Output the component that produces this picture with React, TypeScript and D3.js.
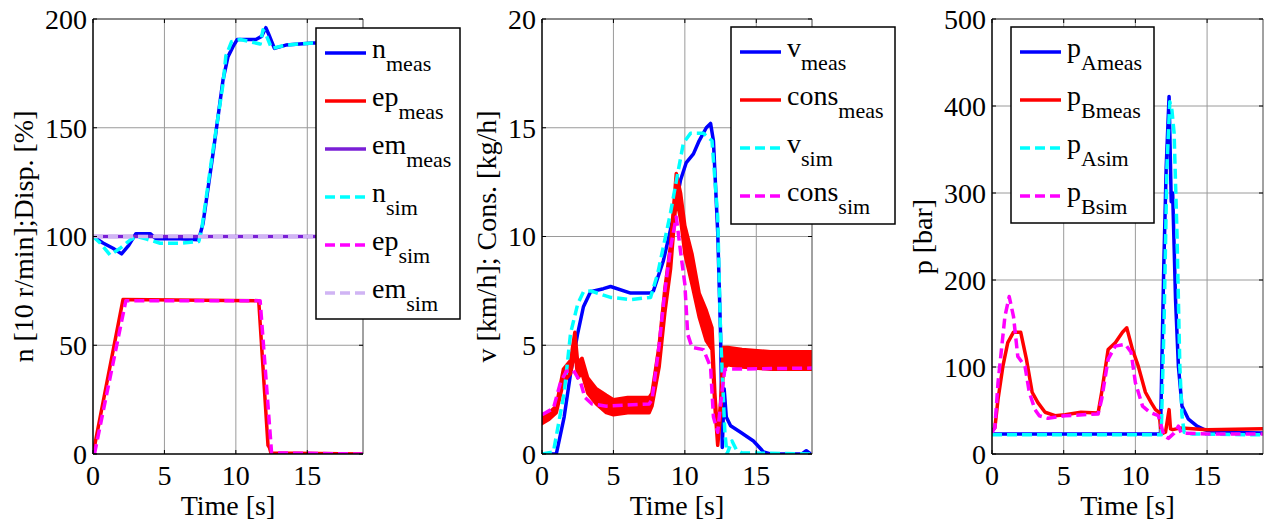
import React, { useEffect, useRef } from 'react';
import * as d3 from 'd3';

// ---- data ----
const X_TICKS = [0, 5, 10, 15];
const T_MAX = 18.9;

// panel 1: speed / displacement
const Y1_TICKS = [0, 50, 100, 150, 200];
const T_N_MEAS = [0, 0.7, 1.4, 2.0, 2.5, 3.0, 4.0, 4.4, 6.1, 7.4, 7.7, 8.4, 9.1, 9.45, 9.8, 10.1, 11.4, 11.8, 12.1, 12.3, 12.7, 13.5, 15.4, 18.9];
const N_MEAS = [100, 97, 94.6, 92, 95.9, 101.3, 101.3, 99, 99, 98.5, 106, 138, 172, 182.7, 187.3, 190.6, 190.6, 192, 196, 193, 186.5, 188, 189, 189];
const T_N_SIM = [0, 0.5, 1.2, 1.9, 2.6, 3.05, 3.75, 4.7, 6.1, 7.4, 7.6, 8.4, 9.1, 9.3, 9.7, 10.3, 11.7, 11.9, 12.1, 12.5, 13.5, 15.4, 18.9];
const N_SIM = [100, 97, 91.5, 94.6, 98.4, 100, 98.8, 96.9, 96.9, 97.7, 103, 139.8, 170, 183, 189.6, 190.6, 188.5, 195, 193, 186.5, 188, 189, 189];
const T_EP_MEAS = [0, 2.1, 11.6, 12.25, 12.35, 12.45, 18.9];
const EP_MEAS = [0, 71, 70.5, 4, 3, 0.5, 0];
const T_EP_SIM = [0.1, 2.3, 11.7, 12.5, 18.9];
const EP_SIM = [0, 70.5, 70.5, 0.5, 0];
const T_EM = [0, 18.9];
const EM_MEAS = [100, 100];
const EM_SIM = [100, 100];

// panel 2: vehicle speed / consumption
const Y2_TICKS = [0, 5, 10, 15, 20];
const T_V_MEAS = [0, 1.0, 1.55, 2.0, 2.5, 2.9, 3.4, 4.3, 4.8, 6.2, 7.6, 7.8, 8.5, 9.2, 9.7, 10.1, 10.6, 11.0, 11.5, 11.8, 12.0, 12.3, 12.5, 12.62, 12.75, 12.9, 13.2, 13.9, 14.8, 15.5, 16.0, 18.2, 18.5, 18.8];
const V_MEAS = [0, 0, 1.7, 3.7, 5.55, 6.77, 7.46, 7.6, 7.7, 7.4, 7.4, 7.5, 8.9, 10.9, 12.6, 13.4, 13.8, 14.4, 15.0, 15.2, 14.4, 10.2, 5.5, 0.3, 3.0, 1.7, 1.3, 1.0, 0.6, 0.1, 0, 0, 0.15, 0];
const T_V_SIM = [0, 0.8, 1.55, 2.0, 2.5, 2.9, 3.4, 4.8, 6.2, 7.6, 8.1, 9.0, 9.5, 9.9, 10.4, 11.3, 11.9, 12.3, 12.5, 12.8, 12.95, 13.3, 13.6, 14.0, 18.9];
const V_SIM = [0, 0.1, 2.8, 5.55, 6.9, 7.46, 7.5, 7.2, 7.1, 7.2, 8.3, 11.1, 12.9, 14.3, 14.75, 14.75, 14.4, 10.9, 5.5, 1.0, 0, 0.6, 0.2, 0.05, 0];
const T_CONS_MEAS = [0, 0.5, 1.0, 1.5, 2.0, 2.3, 2.5, 2.8, 3.2, 3.8, 4.5, 5.0, 6.0, 7.5, 7.7, 8.2, 8.6, 9.0, 9.4, 9.7, 10.0, 10.5, 11.0, 11.5, 11.9, 12.1, 12.3, 12.5, 12.7, 13.0, 14, 16, 18.9];
const CONS_MEAS_LO = [1.4, 1.6, 1.9, 3.3, 3.7, 4.8, 3.5, 3.7, 2.8, 2.3, 1.9, 1.8, 1.9, 1.9, 2.2, 4.0, 6.5, 8.5, 11.8, 10.8, 9.2, 7.8, 6.3, 5.2, 4.8, 2.2, 0.4, 1.8, 3.9, 4.1, 4.0, 3.9, 3.9];
const CONS_MEAS_HI = [1.8, 1.9, 2.2, 3.9, 4.3, 5.6, 4.2, 4.4, 3.5, 3.0, 2.7, 2.5, 2.6, 2.6, 2.8, 5.0, 7.6, 9.6, 12.9, 12.0, 10.5, 9.2, 7.4, 6.6, 5.8, 2.8, 0.8, 2.4, 4.9, 4.9, 4.8, 4.7, 4.7];
const T_CONS_SIM = [0, 0.8, 1.3, 1.7, 2.2, 2.7, 3.0, 3.5, 4.5, 7.5, 7.7, 8.2, 8.6, 9.0, 9.4, 9.7, 10.0, 10.2, 10.5, 11.3, 11.8, 12.0, 12.3, 12.5, 12.8, 18.9];
const CONS_SIM = [1.8, 2.1, 3.3, 3.8, 3.85, 3.3, 2.6, 2.3, 2.2, 2.3, 2.5, 5.0, 7.5, 9.5, 10.9, 9.3, 7.8, 5.5, 4.9, 4.8, 4.0, 1.7, 1.0, 2.3, 3.9, 3.95];

// panel 3: pressures
const Y3_TICKS = [0, 100, 200, 300, 400, 500];
const T_PA_MEAS = [0, 11.75, 11.98, 12.15, 12.35, 12.5, 12.6, 12.8, 13.0, 13.25, 13.7, 14.3, 14.8, 15.5, 18.9];
const PA_MEAS = [23, 23, 216, 330, 411, 290, 300, 178, 101, 55, 40, 32, 28, 25, 24];
const T_PA_SIM = [0, 11.8, 12.0, 12.2, 12.4, 12.55, 12.7, 12.9, 13.1, 13.25, 13.4, 14, 18.9];
const PA_SIM = [22, 22, 150, 330, 405, 395, 369, 254, 101, 44, 25, 23, 22];
const T_PB_MEAS = [0, 0.2, 0.42, 0.76, 1.1, 1.5, 2.0, 2.4, 2.8, 3.2, 3.7, 4.4, 5.1, 6.2, 7.4, 7.65, 8.1, 8.6, 9.1, 9.4, 9.8, 10.2, 10.7, 11.1, 11.4, 11.65, 11.8, 12.1, 12.35, 12.45, 12.6, 13.2, 15, 18.9];
const PB_MEAS = [27, 30, 63, 101, 128, 140, 140, 109, 71, 59, 48, 44, 45, 48, 47, 71, 120, 128, 140, 145, 120, 101, 71, 59, 51, 48, 23, 25, 51, 29, 28, 30, 28, 29];
const T_PB_SIM = [0, 0.2, 0.42, 0.9, 1.2, 1.5, 1.8, 2.3, 2.6, 3.0, 3.3, 3.9, 5.1, 7.4, 7.65, 8.1, 8.6, 9.3, 9.7, 10.0, 10.5, 11.0, 11.6, 12.0, 12.3, 12.7, 13.0, 13.2, 15, 18.9];
const PB_SIM = [25, 30, 82, 158, 181, 158, 112, 101, 71, 51, 44, 41, 44, 46, 63, 109, 124, 126, 117, 82, 55, 48, 44, 21, 18, 24, 32, 24, 23, 23];

const BLUE = '#0000ff';
const RED = '#ff0000';
const PURPLE = '#7a1fd6';
const CYAN = '#00ffff';
const MAGENTA = '#ff00ff';
const LAVENDER = '#d0b4f4';
const FONT = "'Liberation Serif', 'Times New Roman', Times, 'DejaVu Serif', serif";

const zip = (t, v) => t.map((x, i) => [x, v[i]]);

const panels = [
  {
    left: 93, right: 363, yMax: 200, yTicks: Y1_TICKS,
    yLabel: 'n [10 r/min];Disp. [%]', yLabelX: 33,
    legend: { x: 316, y: 28, w: 144, h: 291 },
    series: [
      { main: 'n', sub: 'meas', color: BLUE, data: zip(T_N_MEAS, N_MEAS) },
      { main: 'ep', sub: 'meas', color: RED, data: zip(T_EP_MEAS, EP_MEAS) },
      { main: 'em', sub: 'meas', color: PURPLE, data: zip(T_EM, EM_MEAS) },
      { main: 'n', sub: 'sim', color: CYAN, dash: true, data: zip(T_N_SIM, N_SIM) },
      { main: 'ep', sub: 'sim', color: MAGENTA, dash: true, data: zip(T_EP_SIM, EP_SIM) },
      { main: 'em', sub: 'sim', color: LAVENDER, dash: true, data: zip(T_EM, EM_SIM) },
    ],
  },
  {
    left: 542, right: 812, yMax: 20, yTicks: Y2_TICKS,
    yLabel: 'v [km/h]; Cons. [kg/h]', yLabelX: 496,
    legend: { x: 731, y: 27, w: 164, h: 197 },
    series: [
      { main: 'v', sub: 'meas', color: BLUE, data: zip(T_V_MEAS, V_MEAS) },
      {
        main: 'cons', sub: 'meas', color: RED,
        band: T_CONS_MEAS.map((t, i) => [t, CONS_MEAS_LO[i], CONS_MEAS_HI[i]]),
      },
      { main: 'v', sub: 'sim', color: CYAN, dash: true, data: zip(T_V_SIM, V_SIM) },
      { main: 'cons', sub: 'sim', color: MAGENTA, dash: true, data: zip(T_CONS_SIM, CONS_SIM) },
    ],
  },
  {
    left: 992, right: 1263, yMax: 500, yTicks: Y3_TICKS,
    yLabel: 'p [bar]', yLabelX: 932,
    legend: { x: 1011, y: 27, w: 143, h: 196 },
    series: [
      { main: 'p', sub: 'Ameas', color: BLUE, data: zip(T_PA_MEAS, PA_MEAS) },
      { main: 'p', sub: 'Bmeas', color: RED, data: zip(T_PB_MEAS, PB_MEAS) },
      { main: 'p', sub: 'Asim', color: CYAN, dash: true, data: zip(T_PA_SIM, PA_SIM) },
      { main: 'p', sub: 'Bsim', color: MAGENTA, dash: true, data: zip(T_PB_SIM, PB_SIM) },
    ],
  },
];

const App = () => {
  const ref = useRef(null);

  useEffect(() => {
    const svg = d3.select(ref.current);
    svg.selectAll('*').remove();

    const top = 19;
    const bottom = 454;

    panels.forEach((p, pi) => {
      const x = d3.scaleLinear().domain([0, T_MAX]).range([p.left, p.right]);
      const y = d3.scaleLinear().domain([0, p.yMax]).range([bottom, top]);
      const g = svg.append('g');

      // grid
      g.selectAll('.gx').data(X_TICKS.slice(1)).enter().append('line')
        .attr('x1', d => x(d)).attr('x2', d => x(d))
        .attr('y1', top).attr('y2', bottom)
        .attr('stroke', '#9a9a9a').attr('stroke-width', 1);
      g.selectAll('.gy').data(p.yTicks.slice(1)).enter().append('line')
        .attr('x1', p.left).attr('x2', p.right)
        .attr('y1', d => y(d)).attr('y2', d => y(d))
        .attr('stroke', '#9a9a9a').attr('stroke-width', 1);

      // clip
      const clipId = `clip${pi}`;
      svg.append('clipPath').attr('id', clipId).append('rect')
        .attr('x', p.left).attr('y', top)
        .attr('width', p.right - p.left).attr('height', bottom - top);

      const lines = g.append('g').attr('clip-path', `url(#${clipId})`);
      const line = d3.line().x(d => x(d[0])).y(d => y(d[1]));
      const area = d3.area().x(d => x(d[0])).y0(d => y(d[1])).y1(d => y(d[2]));

      p.series.forEach(s => {
        if (s.band) {
          lines.append('path')
            .attr('d', area(s.band))
            .attr('fill', s.color)
            .attr('stroke', s.color)
            .attr('stroke-width', 3.5)
            .attr('stroke-linejoin', 'round');
        } else {
          lines.append('path')
            .attr('d', line(s.data))
            .attr('fill', 'none')
            .attr('stroke', s.color)
            .attr('stroke-width', 3.5)
            .attr('stroke-linejoin', 'round')
            .attr('stroke-dasharray', s.dash ? '10,5' : null);
        }
      });

      // box
      g.append('line').attr('x1', p.left).attr('x2', p.right).attr('y1', top).attr('y2', top)
        .attr('stroke', '#444').attr('stroke-width', 1);
      g.append('line').attr('x1', p.right).attr('x2', p.right).attr('y1', top).attr('y2', bottom)
        .attr('stroke', '#444').attr('stroke-width', 1);
      g.append('line').attr('x1', p.left).attr('x2', p.right).attr('y1', bottom).attr('y2', bottom)
        .attr('stroke', '#000').attr('stroke-width', 1.5);
      g.append('line').attr('x1', p.left).attr('x2', p.left).attr('y1', top).attr('y2', bottom)
        .attr('stroke', '#000').attr('stroke-width', 1.5);

      // inward ticks on all sides
      const tl = 4;
      X_TICKS.forEach(t => {
        g.append('line').attr('x1', x(t)).attr('x2', x(t)).attr('y1', bottom).attr('y2', bottom - tl).attr('stroke', '#000');
        g.append('line').attr('x1', x(t)).attr('x2', x(t)).attr('y1', top).attr('y2', top + tl).attr('stroke', '#000');
      });
      p.yTicks.forEach(t => {
        g.append('line').attr('x1', p.left).attr('x2', p.left + tl).attr('y1', y(t)).attr('y2', y(t)).attr('stroke', '#000');
        g.append('line').attr('x1', p.right).attr('x2', p.right - tl).attr('y1', y(t)).attr('y2', y(t)).attr('stroke', '#000');
      });

      // tick labels
      g.selectAll('.xl').data(X_TICKS).enter().append('text')
        .attr('x', d => x(d)).attr('y', 485)
        .attr('text-anchor', 'middle')
        .style('font-family', FONT).style('font-size', '28px')
        .text(d => d);
      g.selectAll('.yl').data(p.yTicks).enter().append('text')
        .attr('x', p.left - 6).attr('y', d => y(d)).attr('dy', '0.35em')
        .attr('text-anchor', 'end')
        .style('font-family', FONT).style('font-size', '28px')
        .text(d => d);

      // axis titles
      g.append('text')
        .attr('x', (p.left + p.right) / 2).attr('y', 515)
        .attr('text-anchor', 'middle')
        .style('font-family', FONT).style('font-size', '28px')
        .text('Time [s]');
      g.append('text')
        .attr('transform', `translate(${p.yLabelX},${(top + bottom) / 2}) rotate(-90)`)
        .attr('text-anchor', 'middle')
        .style('font-family', FONT).style('font-size', '28px')
        .text(p.yLabel);
    });

    // legends drawn last so they sit on top of everything
    panels.forEach(p => {
      const L = p.legend;
      const lg = svg.append('g');
      lg.append('rect')
        .attr('x', L.x).attr('y', L.y).attr('width', L.w).attr('height', L.h)
        .attr('fill', '#fff').attr('stroke', '#000').attr('stroke-width', 1.5);
      p.series.forEach((s, i) => {
        const ly = L.y + 25 + i * 48;
        lg.append('line')
          .attr('x1', L.x + 9).attr('x2', L.x + 50)
          .attr('y1', ly).attr('y2', ly)
          .attr('stroke', s.color).attr('stroke-width', 3.5)
          .attr('stroke-dasharray', s.dash ? '10,5' : null);
        const t = lg.append('text')
          .attr('x', L.x + 56).attr('y', ly + 5)
          .style('font-family', FONT).style('font-size', '28px');
        t.append('tspan').text(s.main);
        t.append('tspan').attr('dy', 13).style('font-size', '22px').text(s.sub);
      });
    });
  }, []);

  return (
    <svg
      ref={ref}
      width={1272}
      height={526}
      style={{ position: 'absolute', left: 0, top: 0, background: '#fff' }}
    />
  );
};

export default App;
